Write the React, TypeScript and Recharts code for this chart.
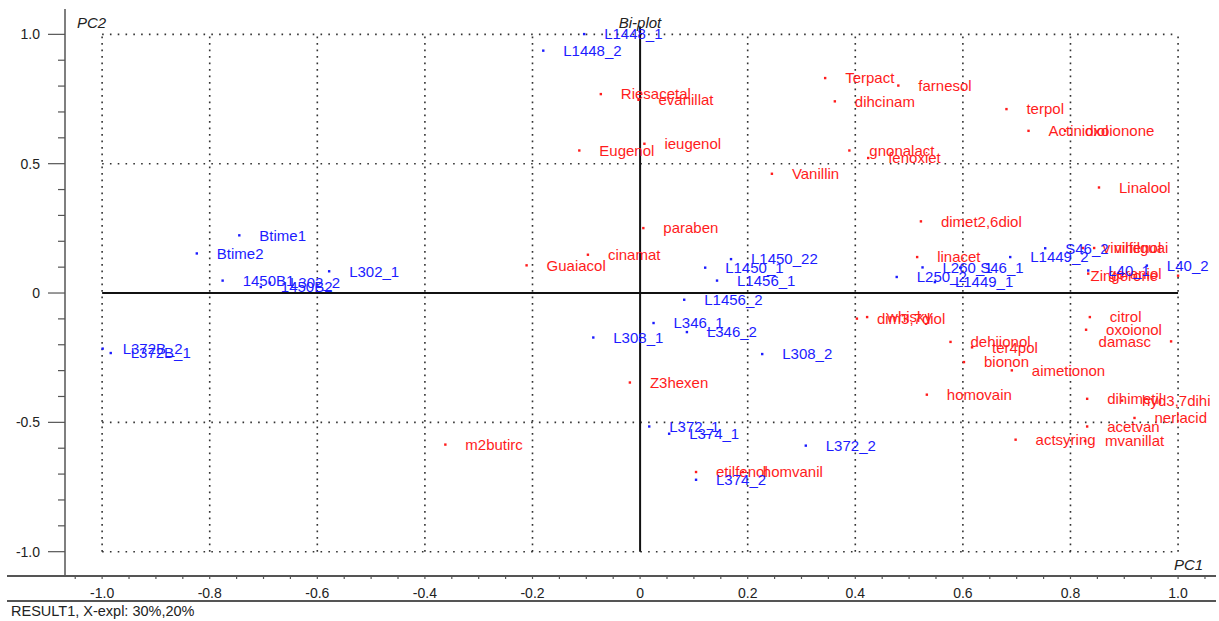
import React from 'react';
import { ScatterChart, Scatter, XAxis, YAxis, ReferenceLine } from 'recharts';

// samples (blue)
const sampleNames = [
  'Btime1', 'Btime2', '1450B1', '1450B2', 'L302_2', 'L302_1', 'L372B_2', 'L372B_1',
  'L1448_1', 'L1448_2', 'L1450_22', 'L1450_1', 'L1456_1', 'L1456_2', 'L346_1', 'L346_2',
  'L308_1', 'L308_2', 'L372_1', 'L374_1', 'L374_2', 'L372_2', 'L250_2', 'L260_1',
  'S46_1', 'L1449_1', 'L1449_2', 'S46_2', 'L40_1', 'L40_2',
];
const samplePC1 = [
  -0.745, -0.824, -0.776, -0.705, -0.688, -0.578, -0.999, -0.984,
  -0.104, -0.180, 0.169, 0.121, 0.143, 0.082, 0.025, 0.087,
  -0.087, 0.227, 0.017, 0.054, 0.104, 0.308, 0.477, 0.525,
  0.595, 0.548, 0.688, 0.753, 0.833, 0.942,
];
const samplePC2 = [
  0.223, 0.153, 0.048, 0.023, 0.040, 0.084, -0.215, -0.232,
  1.001, 0.937, 0.131, 0.098, 0.048, -0.026, -0.116, -0.151,
  -0.172, -0.236, -0.516, -0.544, -0.722, -0.590, 0.062, 0.099,
  0.098, 0.042, 0.139, 0.173, 0.087, 0.106,
];

// variables (red)
const varNames = [
  'Riesacetal', 'evanillat', 'Eugenol', 'ieugenol', 'paraben', 'cinamat', 'Guaiacol', 'Vanillin',
  'Terpact', 'farnesol', 'dihcinam', 'terpol', 'Actinidiol', 'oxoionone', 'gnonalact', 'fenoxiet',
  'Linalool', 'dimet2,6diol', 'linacet', 'vinilfenol', 'vinilguai', 'geraniol', 'Zingerone',
  'whisky', 'dim3,7diol', 'dehiionol', 'ter4pol', 'bionon', 'aimetionon', 'homovain',
  'citrol', 'oxoionol', 'damasc', 'dihimetil', 'hyd3,7dihi', 'nerlacid', 'acetvan', 'mvanillat',
  'actsyring', 'Z3hexen', 'm2butirc', 'etilfenol', 'homvanil',
];
const varPC1 = [
  -0.073, -0.003, -0.113, 0.008, 0.006, -0.097, -0.211, 0.245,
  0.344, 0.480, 0.362, 0.681, 0.722, 0.790, 0.389, 0.424,
  0.853, 0.522, 0.515, 0.823, 0.844, 0.833, 1.000,
  0.422, 0.403, 0.577, 0.617, 0.602, 0.691, 0.533,
  0.836, 0.829, 0.987, 0.831, 0.896, 0.919, 0.831, 0.827,
  0.698, -0.019, -0.362, 0.104, 0.191,
];
const varPC2 = [
  0.769, 0.747, 0.551, 0.577, 0.251, 0.148, 0.107, 0.461,
  0.831, 0.802, 0.741, 0.711, 0.627, 0.627, 0.551, 0.522,
  0.408, 0.277, 0.139, 0.174, 0.174, 0.075, 0.067,
  -0.093, -0.099, -0.189, -0.210, -0.267, -0.299, -0.393,
  -0.093, -0.142, -0.187, -0.409, -0.416, -0.483, -0.516, -0.572,
  -0.567, -0.346, -0.586, -0.692, -0.692,
];

const xLabelTicks = [-1.0, -0.8, -0.6, -0.4, -0.2, 0, 0.2, 0.4, 0.6, 0.8, 1.0];
const yLabelTicks = [-1.0, -0.5, 0, 0.5, 1.0];
const xTicks = Array.from({ length: 43 }, (_, i) => +(-1.05 + i * 0.05).toFixed(2));
const yTicks = Array.from({ length: 21 }, (_, i) => +(-1.0 + i * 0.1).toFixed(1));
const gridX = [-1.0, -0.8, -0.6, -0.4, -0.2, 0.2, 0.4, 0.6, 0.8, 1.0];
const gridY = [-1.0, -0.5, 0.5, 1.0];

const samples = sampleNames.map((name, i) => ({ name, pc1: samplePC1[i], pc2: samplePC2[i] }));
const variables = varNames.map((name, i) => ({ name, pc1: varPC1[i], pc2: varPC2[i] }));

const FONT = '"Liberation Sans", Arial, sans-serif';
const BLUE = '#1c1cff';
const RED = '#ff1c1c';

const fmt = (v: number) => (Math.abs(v) < 1e-9 ? '0' : v.toFixed(1));
const isIn = (list: number[], v: number) => list.some((t) => Math.abs(t - v) < 1e-6);

const XTick = (props: any) => {
  const { x, y, payload } = props;
  const v = payload.value;
  return (
    <g>
      <line x1={x} x2={x} y1={y} y2={y + 3} stroke="#555" strokeWidth={1.2} />
      {isIn(xLabelTicks, v) && (
        <text x={x} y={y + 17} dy="0.35em" textAnchor="middle" fontSize={14} fontFamily={FONT} fill="#222">
          {fmt(v)}
        </text>
      )}
    </g>
  );
};

const YTick = (props: any) => {
  const { x, y, payload } = props;
  const v = payload.value;
  const major = isIn(yLabelTicks, v);
  return (
    <g>
      <line x1={x - (major ? 17 : 7)} x2={x} y1={y} y2={y} stroke="#555" strokeWidth={1.2} />
      {major && (
        <text x={x - 25} y={y} dy="0.35em" textAnchor="end" fontSize={14} fontFamily={FONT} fill="#222">
          {fmt(v)}
        </text>
      )}
    </g>
  );
};

// dot + name; points at the far right edge get their name on the left
const makeShape = (color: string) => (props: any) => {
  const { cx, cy, payload } = props;
  const left = payload.pc1 > 0.96;
  return (
    <g>
      <rect x={cx - 1.2} y={cy - 1.2} width={2.4} height={2.4} fill={color} />
      <text
        x={left ? cx - 20 : cx + 20}
        y={cy}
        dy="0.35em"
        textAnchor={left ? 'end' : 'start'}
        fontSize={15}
        fontFamily={FONT}
        fill={color}
      >
        {payload.name}
      </text>
    </g>
  );
};

export default function App() {
  return (
    <div style={{ position: 'absolute', left: 0, top: 0, width: 1219, height: 621, background: '#fff' }}>
      <ScatterChart width={1219} height={621} margin={{ top: 9, right: 3, bottom: 0, left: 8 }}>
        <XAxis
          type="number"
          dataKey="pc1"
          domain={[-1.069, 1.0705]}
          ticks={xTicks}
          interval={0}
          height={45}
          axisLine={false}
          tickLine={false}
          tickSize={0}
          tickMargin={0}
          tick={<XTick />}
        />
        <YAxis
          type="number"
          dataKey="pc2"
          domain={[-1.094, 1.098]}
          ticks={yTicks}
          interval={0}
          width={57}
          axisLine={{ stroke: '#555', strokeWidth: 1.5 }}
          tickLine={false}
          tickSize={0}
          tickMargin={0}
          tick={<YTick />}
        />
        {gridX.map((g) => (
          <ReferenceLine
            key={'gx' + g}
            segment={[{ x: g, y: -1 }, { x: g, y: 1 }]}
            stroke="#333"
            strokeWidth={1.6}
            strokeDasharray="1.6 4.9"
          />
        ))}
        {gridY.map((g) => (
          <ReferenceLine
            key={'gy' + g}
            segment={[{ x: -1, y: g }, { x: 1, y: g }]}
            stroke="#333"
            strokeWidth={1.6}
            strokeDasharray="1.6 6.2"
          />
        ))}
        <ReferenceLine segment={[{ x: -1, y: 0 }, { x: 1, y: 0 }]} stroke="#111" strokeWidth={2} />
        <ReferenceLine segment={[{ x: 0, y: -1 }, { x: 0, y: 1.03 }]} stroke="#111" strokeWidth={2} />
        <Scatter data={variables} shape={makeShape(RED)} isAnimationActive={false} />
        <Scatter data={samples} shape={makeShape(BLUE)} isAnimationActive={false} />
      </ScatterChart>
      <svg
        width={1219}
        height={621}
        style={{ position: 'absolute', left: 0, top: 0, pointerEvents: 'none' }}
      >
        <line x1={7} x2={1216} y1={576} y2={576} stroke="#555" strokeWidth={2} />
        <line x1={7} x2={1216} y1={601} y2={601} stroke="#555" strokeWidth={2} />
        <text x={77} y={23} dy="0.35em" fontSize={15} fontStyle="italic" fontFamily={FONT} fill="#222">PC2</text>
        <text x={640} y={23} dy="0.35em" textAnchor="middle" fontSize={15} fontStyle="italic" fontFamily={FONT} fill="#222">Bi-plot</text>
        <text x={1174} y={565} dy="0.35em" fontSize={15} fontStyle="italic" fontFamily={FONT} fill="#222">PC1</text>
        <text x={11} y={611} dy="0.35em" fontSize={14.5} fontFamily={FONT} fill="#222">RESULT1, X-expl: 30%,20%</text>
      </svg>
    </div>
  );
}
